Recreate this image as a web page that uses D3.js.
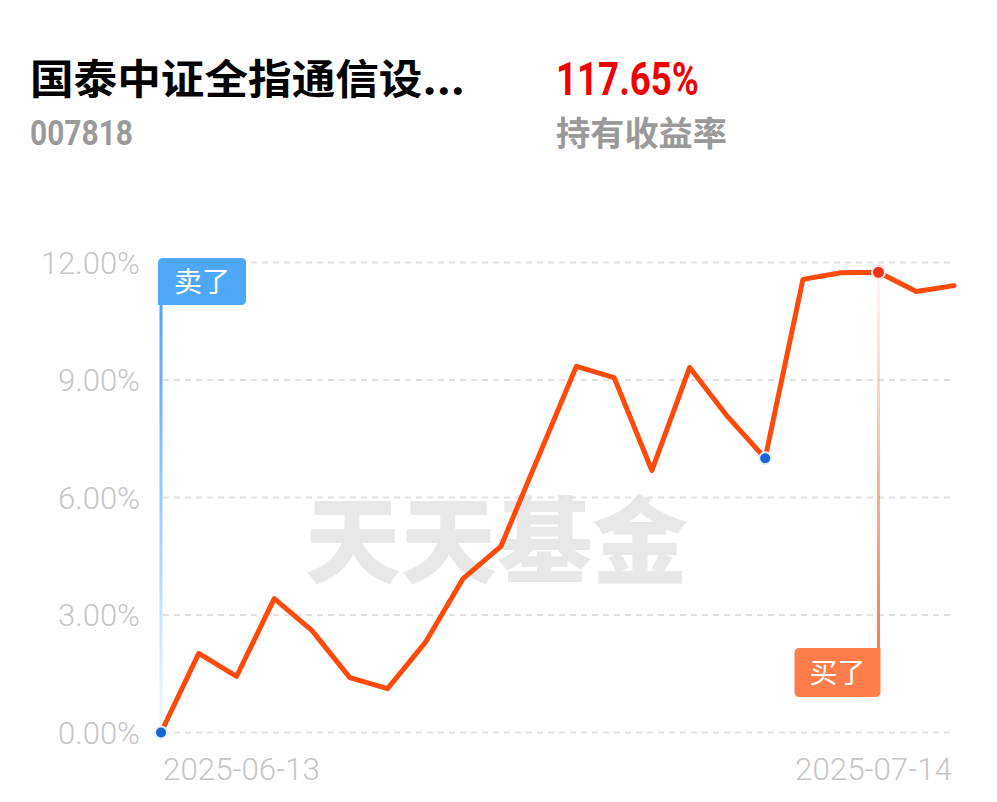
<!DOCTYPE html>
<html><head><meta charset="utf-8">
<script src="https://cdn.jsdelivr.net/npm/d3@7/dist/d3.min.js"></script>
<style>
html,body{margin:0;padding:0;background:#fff;}
svg{display:block;}
</style></head>
<body><svg id="c" width="997" height="802"></svg>
<script>
const dates = ["2025-06-13","2025-06-16","2025-06-17","2025-06-18","2025-06-19","2025-06-20","2025-06-23","2025-06-24","2025-06-25","2025-06-26","2025-06-27","2025-06-30","2025-07-01","2025-07-02","2025-07-03","2025-07-04","2025-07-07","2025-07-08","2025-07-09","2025-07-10","2025-07-11","2025-07-14"];
const returns = [0.00,2.02,1.43,3.42,2.60,1.40,1.12,2.30,3.93,4.75,7.05,9.35,9.06,6.69,9.32,8.07,7.00,11.57,11.74,11.75,11.26,11.41];
const yTicks = [0,3,6,9,12];
const xTickLabels = ["2025-06-13","2025-07-14"];
const blueDots = ["2025-06-13","2025-07-07"];
const sellDate = "2025-06-13", buyDate = "2025-07-10";
const fundName = "国泰中证全指通信设...";
const fundCode = "007818";
const holdReturn = "117.65%";
const holdLabel = "持有收益率";

const svg = d3.select("#c");
const x = d3.scalePoint().domain(dates).range([161, 954]);
const y = d3.scaleLinear().domain([0, 12]).range([732.5, 262.5]);
const val = d => returns[dates.indexOf(d)];

// header
svg.append("text").attr("x",30).attr("y",94).attr("font-family","'Noto Sans CJK SC'").attr("font-weight",700)
  .attr("font-size",41).attr("fill","#000").attr("textLength",435).attr("lengthAdjust","spacingAndGlyphs").text(fundName);
svg.append("text").attr("x",30).attr("y",145).attr("font-family","Roboto").attr("font-weight",700)
  .attr("font-size",35).attr("fill","#9a9a9a").attr("textLength",103).attr("lengthAdjust","spacingAndGlyphs").text(fundCode);
svg.append("text").attr("x",556).attr("y",95).attr("font-family","Roboto").attr("font-weight",700)
  .attr("font-size",47).attr("fill","#f00000").attr("textLength",143).attr("lengthAdjust","spacingAndGlyphs").text(holdReturn);
svg.append("text").attr("x",556).attr("y",146).attr("font-family","'Noto Sans CJK SC'").attr("font-weight",700)
  .attr("font-size",34).attr("fill","#9a9a9a").attr("textLength",171).attr("lengthAdjust","spacingAndGlyphs").text(holdLabel);

// watermark
svg.append("text").attr("x",305).attr("y",576).attr("font-family","'Noto Sans CJK SC'").attr("font-weight",900)
  .attr("font-size",94).attr("fill","#e8e8e8").attr("textLength",383).attr("lengthAdjust","spacingAndGlyphs").text("天天基金");

// grid
svg.append("g").selectAll("line").data(yTicks).join("line")
  .attr("x1",163).attr("x2",954).attr("y1",d=>y(d)).attr("y2",d=>y(d))
  .attr("stroke","#e2e2e2").attr("stroke-width",2).attr("stroke-dasharray","6,5");

// y labels
svg.append("g").selectAll("text").data(yTicks).join("text")
  .attr("x",140).attr("y",d=>y(d)).attr("dy","0.36em").attr("text-anchor","end")
  .attr("font-family","Roboto").attr("font-weight",300).attr("font-size",31).attr("fill","#c6c6c6")
  .text(d=>d3.format(".2f")(d)+"%");

// x labels
svg.append("g").selectAll("text").data(xTickLabels).join("text")
  .attr("x",(d,i)=> i===0 ? x(d)+2 : x(d)-159).attr("y",780)
  .attr("font-family","Roboto").attr("font-weight",300).attr("font-size",31).attr("fill","#c6c6c6")
  .attr("textLength",157).attr("lengthAdjust","spacingAndGlyphs")
  .text(d=>d);

// gradients
const defs = svg.append("defs");
const gb = defs.append("linearGradient").attr("id","gBlue").attr("x1",0).attr("y1",0).attr("x2",0).attr("y2",1);
gb.append("stop").attr("offset","0%").attr("stop-color","#4aa2f6");
gb.append("stop").attr("offset","100%").attr("stop-color","#4aa2f6").attr("stop-opacity",0.05);
const go = defs.append("linearGradient").attr("id","gOr").attr("x1",0).attr("y1",0).attr("x2",0).attr("y2",1);
go.append("stop").attr("offset","0%").attr("stop-color","#ff7a45").attr("stop-opacity",0.05);
go.append("stop").attr("offset","100%").attr("stop-color","#ff7a45");

// sell marker
const sx = x(sellDate);
svg.append("rect").attr("x",sx-1.5).attr("y",300).attr("width",3).attr("height",y(val(sellDate))-300).attr("fill","url(#gBlue)");
svg.append("path").attr("fill","#4ea8f7")
  .attr("d",`M${sx-3},305 L${sx-3},263 Q${sx-3},258 ${sx+2},258 L${sx+80},258 Q${sx+85},258 ${sx+85},263 L${sx+85},300 Q${sx+85},305 ${sx+80},305 Z`);
svg.append("text").attr("x",sx+41).attr("y",282).attr("dy","0.36em").attr("text-anchor","middle")
  .attr("font-family","'Noto Sans CJK SC'").attr("font-size",28).attr("fill","#fff").text("卖了");

// buy marker
const bx = x(buyDate);
svg.append("rect").attr("x",bx-1.5).attr("y",y(val(buyDate))).attr("width",3).attr("height",650-y(val(buyDate))).attr("fill","url(#gOr)");
svg.append("path").attr("fill","#ff7d4a")
  .attr("d",`M${bx+2},648 L${bx+2},692 Q${bx+2},697 ${bx-3},697 L${bx-79},697 Q${bx-84},697 ${bx-84},692 L${bx-84},653 Q${bx-84},648 ${bx-79},648 Z`);
svg.append("text").attr("x",bx-41).attr("y",673).attr("dy","0.36em").attr("text-anchor","middle")
  .attr("font-family","'Noto Sans CJK SC'").attr("font-size",28).attr("fill","#fff").text("买了");

// line
svg.append("path").datum(dates).attr("fill","none").attr("stroke","#ff4a0a").attr("stroke-width",5)
  .attr("stroke-linejoin","round").attr("stroke-linecap","round")
  .attr("d", d3.line().x(d=>x(d)).y(d=>y(val(d))));

// dots
svg.append("g").selectAll("circle").data(blueDots).join("circle")
  .attr("cx",d=>x(d)).attr("cy",d=>y(val(d))).attr("r",6)
  .attr("fill","#1565d8").attr("stroke","#e6f0fc").attr("stroke-width",2);
svg.append("circle").attr("cx",bx).attr("cy",y(val(buyDate))).attr("r",6.5)
  .attr("fill","#f0351c").attr("stroke","#fde3de").attr("stroke-width",2);
</script></body></html>
